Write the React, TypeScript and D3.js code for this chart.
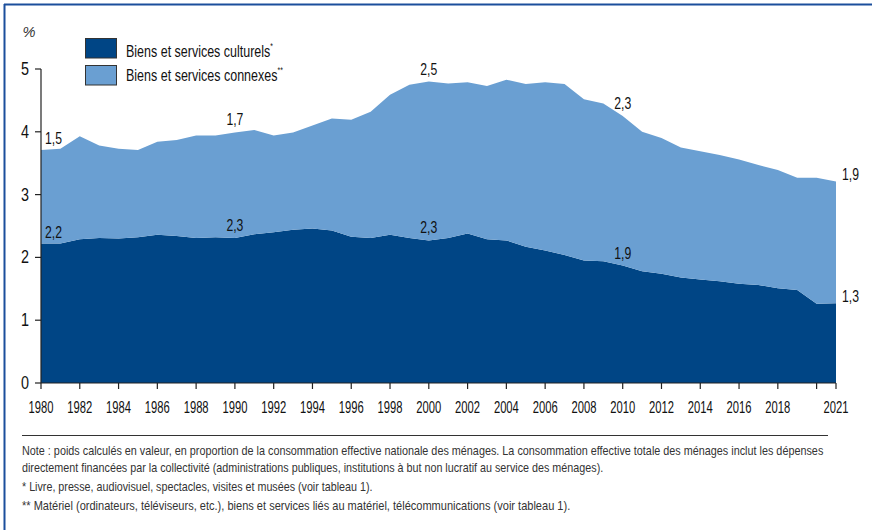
import React, { useEffect, useLayoutEffect, useRef, useState } from "react";
import * as d3 from "d3";

const years = d3.range(1980, 2022);
const culturels = [
  2.22, 2.22, 2.29, 2.31, 2.30, 2.32, 2.36, 2.34, 2.31, 2.32,
  2.31, 2.37, 2.40, 2.44, 2.46, 2.43, 2.33, 2.31, 2.36, 2.31,
  2.27, 2.31, 2.38, 2.29, 2.27, 2.17, 2.11, 2.04, 1.95, 1.94,
  1.87, 1.78, 1.74, 1.68, 1.65, 1.62, 1.58, 1.56, 1.51, 1.48,
  1.26, 1.27,
];
const connexes = [
  1.49, 1.51, 1.64, 1.47, 1.43, 1.39, 1.48, 1.53, 1.63, 1.62,
  1.68, 1.66, 1.54, 1.55, 1.64, 1.78, 1.86, 2.01, 2.23, 2.44,
  2.53, 2.46, 2.41, 2.44, 2.56, 2.59, 2.68, 2.72, 2.57, 2.51,
  2.38, 2.22, 2.16, 2.07, 2.04, 2.01, 1.98, 1.91, 1.88, 1.79,
  2.01, 1.94,
];
const seriesKeys = ["culturels", "connexes"];
const seriesLabels = ["Biens et services culturels", "Biens et services connexes"];
const seriesSup = ["*", "**"];
const yTicks = [0, 1, 2, 3, 4, 5];
const xTickYears = [1980, 1982, 1984, 1986, 1988, 1990, 1992, 1994, 1996, 1998, 2000, 2002, 2004, 2006, 2008, 2010, 2012, 2014, 2016, 2018, 2020, 2021];
const xLabelYears = [1980, 1982, 1984, 1986, 1988, 1990, 1992, 1994, 1996, 1998, 2000, 2002, 2004, 2006, 2008, 2010, 2012, 2014, 2016, 2018, 2021];
const annYears = [1980, 1980, 1990, 1990, 2000, 2000, 2010, 2010, 2021, 2021];
const annSeries = ["connexes", "culturels", "connexes", "culturels", "connexes", "culturels", "connexes", "culturels", "connexes", "culturels"];
const annLabels = ["1,5", "2,2", "1,7", "2,3", "2,5", "2,3", "2,3", "1,9", "1,9", "1,3"];
const notes = [
  "Note : poids calculés en valeur, en proportion de la consommation effective nationale des ménages. La consommation effective totale des ménages inclut les dépenses",
  "directement financées par la collectivité (administrations publiques, institutions à but non lucratif au service des ménages).",
  "* Livre, presse, audiovisuel, spectacles, visites et musées (voir tableau 1).",
  "** Matériel (ordinateurs, téléviseurs, etc.), biens et services liés au matériel, télécommunications (voir tableau 1).",
];

const W = 872;
const H = 530;
const FONT = "'Liberation Sans', Arial, sans-serif";
const colors: Record<string, string> = { culturels: "#004585", connexes: "#6a9fd2" };
const BORDER = "#1b4f9c";
const INK = "#111";

const noteY = [455, 472, 491, 510];
const noteW = [802, 582, 351, 549];
const legendBoxY = [38.5, 65.5];
const legendTextY = [56.5, 81];
const legendTextW = [147, 157];

function FitText(props: any) {
  const { x, y, width, anchor = "start", children, ...rest } = props;
  const ref = useRef<SVGTextElement>(null);
  const [s, setS] = useState(1);
  useLayoutEffect(() => {
    if (ref.current) {
      const w = ref.current.getComputedTextLength();
      if (w > 0) setS(width / w);
    }
  }, [width]);
  return (
    <text ref={ref} transform={`translate(${x},${y}) scale(${s},1)`} textAnchor={anchor} {...rest}>
      {children}
    </text>
  );
}

export default function App() {
  useEffect(() => {
    document.body.style.margin = "0";
  }, []);

  const x = d3.scaleLinear().domain([1980, 2021]).range([41, 836]);
  const y = d3.scaleLinear().domain([0, 5]).range([383, 69]);

  const table = years.map((yr, i) => ({ year: yr, culturels: culturels[i], connexes: connexes[i] }));
  const stacked = d3.stack<any>().keys(seriesKeys)(table);
  const area = d3
    .area<any>()
    .x((d) => x(d.data.year))
    .y0((d) => y(d[0]))
    .y1((d) => y(d[1]));

  const annPos = annYears.map((yr, i) => {
    const idx = years.indexOf(yr);
    const layer = stacked.find((s) => s.key === annSeries[i])!;
    const top = layer[idx][1];
    let cx = x(yr);
    let anchor = "middle";
    let cy = y(top) - 7;
    if (yr === 1980) { cx = x(yr) + 4; anchor = "start"; cy = y(top) - 6; }
    if (yr === 2021) { cx = x(yr) + 6; anchor = "start"; cy = y(top) - 1.5; }
    return { cx, cy, anchor, label: annLabels[i] };
  });

  return (
    <svg width={W} height={H} style={{ display: "block", background: "#fff" }} fontFamily={FONT}>
      {/* frame */}
      <line x1={4} x2={W} y1={4.5} y2={4.5} stroke={BORDER} strokeWidth={2} />
      <line x1={4.5} x2={4.5} y1={4} y2={H} stroke={BORDER} strokeWidth={2} />

      {/* areas */}
      {stacked.map((s) => (
        <path key={s.key} d={area(s) || ""} fill={colors[s.key]} />
      ))}

      {/* y axis */}
      <line x1={41} x2={41} y1={y(5)} y2={y(0)} stroke="#222" strokeWidth={1.2} />
      {yTicks.map((t) => (
        <g key={t}>
          <line x1={35} x2={41} y1={y(t)} y2={y(t)} stroke="#222" strokeWidth={1.2} />
          <FitText x={29} y={y(t) + 6} width={8} anchor="end" fontSize={17.5} fill={INK}>{t}</FitText>
        </g>
      ))}
      <FitText x={22.5} y={36.5} width={13} fontSize={15} fontStyle="italic" fill="#333">%</FitText>

      {/* x axis */}
      <line x1={41} x2={836} y1={383} y2={383} stroke="#222" strokeWidth={1.2} />
      {xTickYears.map((t) => (
        <line key={t} x1={x(t)} x2={x(t)} y1={383} y2={389} stroke="#222" strokeWidth={1.2} />
      ))}
      {xLabelYears.map((t) => (
        <FitText key={t} x={x(t)} y={413} width={25} anchor="middle" fontSize={17} fill={INK}>{t}</FitText>
      ))}

      {/* annotations */}
      {annPos.map((a, i) => (
        <FitText key={i} x={a.cx} y={a.cy} width={17} anchor={a.anchor} fontSize={17} fill={INK}>{a.label}</FitText>
      ))}

      {/* legend */}
      {seriesKeys.map((k, i) => (
        <g key={k}>
          <rect x={85.5} y={legendBoxY[i]} width={31} height={19.5} fill={colors[k]} stroke="#333" strokeWidth={1} />
          <FitText x={126} y={legendTextY[i]} width={legendTextW[i]} fontSize={16.5} fill={INK}>
            {seriesLabels[i]}
            <tspan fontSize={9} dy={-8}>{seriesSup[i]}</tspan>
          </FitText>
        </g>
      ))}

      {/* notes */}
      <line x1={22} x2={828} y1={435.5} y2={435.5} stroke="#333" strokeWidth={1} />
      {notes.map((n, i) => (
        <FitText key={i} x={22} y={noteY[i]} width={noteW[i]} fontSize={13} fill="#333">
          {n}
        </FitText>
      ))}
    </svg>
  );
}
